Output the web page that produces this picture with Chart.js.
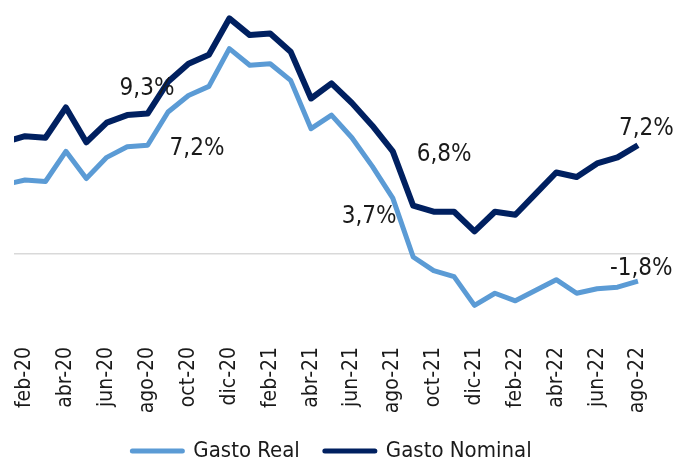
<!DOCTYPE html>
<html>
<head>
<meta charset="utf-8">
<script src="https://cdn.jsdelivr.net/npm/chart.js@4/dist/chart.umd.min.js"></script>
<style>
  html, body { margin: 0; padding: 0; background: #fff; }
  #wrap { width: 673px; height: 462px; }
</style>
</head>
<body>
<div id="wrap"><canvas id="myChart" width="673" height="462"></canvas></div>
<script>
const FONT = "'DejaVu Sans Condensed', 'Liberation Sans Narrow', sans-serif";

// monthly categories, ene-20 .. ago-22
const months = [
  'ene-20', 'feb-20', 'mar-20', 'abr-20', 'may-20', 'jun-20', 'jul-20', 'ago-20',
  'sep-20', 'oct-20', 'nov-20', 'dic-20', 'ene-21', 'feb-21', 'mar-21', 'abr-21',
  'may-21', 'jun-21', 'jul-21', 'ago-21', 'sep-21', 'oct-21', 'nov-21', 'dic-21',
  'ene-22', 'feb-22', 'mar-22', 'abr-22', 'may-22', 'jun-22', 'jul-22', 'ago-22',
];

// labels shown on the x axis (every second month)
const tickLabels = [
  'feb-20', 'abr-20', 'jun-20', 'ago-20', 'oct-20', 'dic-20', 'feb-21', 'abr-21',
  'jun-21', 'ago-21', 'oct-21', 'dic-21', 'feb-22', 'abr-22', 'jun-22', 'ago-22',
];

// % change
const gastoReal = [
  4.6, 4.9, 4.8, 6.8, 5.0, 6.4, 7.1, 7.2,
  9.4, 10.5, 11.1, 13.6, 12.5, 12.6, 11.5, 8.3,
  9.2, 7.7, 5.8, 3.7, -0.2, -1.1, -1.5, -3.4,
  -2.6, -3.1, -2.4, -1.7, -2.6, -2.3, -2.2, -1.8,
];
const gastoNominal = [
  7.4, 7.8, 7.7, 9.7, 7.4, 8.7, 9.2, 9.3,
  11.4, 12.6, 13.2, 15.6, 14.5, 14.6, 13.4, 10.3,
  11.3, 10.0, 8.5, 6.8, 3.2, 2.8, 2.8, 1.5,
  2.8, 2.6, 4.0, 5.4, 5.1, 6.0, 6.4, 7.2,
];

// which points get a value label: [dataset, month]
const labelledPoints = [[1, 7], [0, 7], [0, 19], [1, 19], [1, 31], [0, 31]];
// text offsets from the point (left edge, baseline)
const labelOffsets = [[-28, -19], [22, 10], [-51, 25], [24, 10], [-19, -10], [-28, -6]];

const toXY = (arr) => arr.map((v, i) => ({ x: i, y: v }));

const valueLabels = {
  id: 'valueLabels',
  afterDatasetsDraw(chart) {
    const ctx = chart.ctx;
    ctx.save();
    ctx.font = '24px ' + FONT;
    ctx.fillStyle = '#1a1a1a';
    ctx.textAlign = 'left';
    ctx.textBaseline = 'alphabetic';
    labelledPoints.forEach(([ds, idx], k) => {
      const pt = chart.getDatasetMeta(ds).data[idx];
      const v = chart.data.datasets[ds].data[idx].y;
      const txt = v.toFixed(1).replace('.', ',') + '%';
      ctx.fillText(txt, pt.x + labelOffsets[k][0], pt.y + labelOffsets[k][1]);
    });
    ctx.restore();
  },
};

const config = {
  type: 'line',
  data: {
    datasets: [
      {
        label: 'Gasto Real',
        data: toXY(gastoReal),
        borderColor: '#5B9BD5',
        backgroundColor: '#5B9BD5',
        borderWidth: 5,
        borderJoinStyle: 'round',
        pointRadius: 0,
        tension: 0,
        clip: 0,
      },
      {
        label: 'Gasto Nominal',
        data: toXY(gastoNominal),
        borderColor: '#002060',
        backgroundColor: '#002060',
        borderWidth: 6,
        borderJoinStyle: 'round',
        pointRadius: 0,
        tension: 0,
        clip: 0,
      },
    ],
  },
  options: {
    responsive: false,
    animation: false,
    devicePixelRatio: 1,
    layout: { padding: { left: 14, right: 23, top: 5, bottom: -10 } },
    scales: {
      x: {
        type: 'linear',
        min: 0.46,
        max: 31.59,
        bounds: 'data',
        afterBuildTicks: (scale) => {
          scale.ticks = tickLabels.map((t) => ({ value: months.indexOf(t) }));
        },
        afterFit: (scale) => {
          scale.height = 71;
        },
        grid: { display: false, drawTicks: false },
        border: { display: false },
        ticks: {
          autoSkip: false,
          minRotation: 90,
          maxRotation: 90,
          padding: 3,
          color: '#1a1a1a',
          font: { family: FONT, size: 21 },
          callback: (v) => months[v],
        },
      },
      y: {
        min: -5.96,
        max: 16.49,
        afterBuildTicks: (scale) => {
          scale.ticks = [{ value: 0 }];
        },
        border: { display: false },
        grid: {
          drawTicks: false,
          lineWidth: 1.5,
          color: (c) => (c.tick && c.tick.value === 0 ? '#D9D9D9' : 'rgba(0,0,0,0)'),
        },
        ticks: { display: false },
      },
    },
    plugins: {
      tooltip: { enabled: false },
      legend: {
        position: 'bottom',
        labels: {
          usePointStyle: true,
          pointStyleWidth: 50,
          boxHeight: 5,
          padding: 25,
          color: '#1a1a1a',
          font: { family: FONT, size: 22 },
          generateLabels: (chart) => {
            const items = Chart.defaults.plugins.legend.labels.generateLabels(chart);
            items.forEach((it) => {
              it.pointStyle = 'line';
              it.lineWidth = 5;
              it.lineCap = 'round';
            });
            return items;
          },
        },
      },
    },
  },
  plugins: [valueLabels],
};

const myChart = new Chart(document.querySelector('#myChart'), config);
</script>
</body>
</html>
